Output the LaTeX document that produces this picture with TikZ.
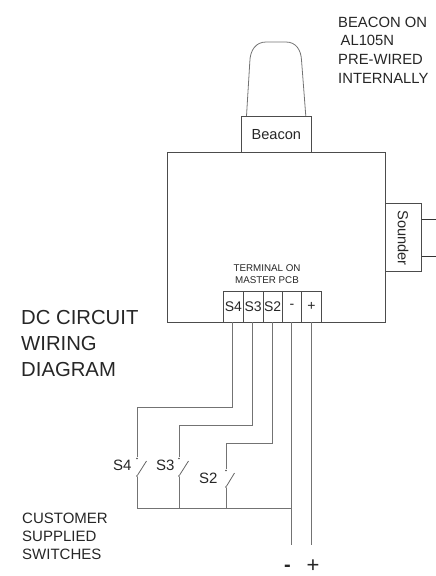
\documentclass[tikz,border=0pt]{standalone}
\usepackage{fontspec}
\setmainfont{Liberation Sans}
\tikzset{
  wire/.style={draw=black!55,line width=0.8pt},
  dark/.style={draw=black!80,line width=0.7pt},
  boxx/.style={draw=black!70,line width=0.7pt,inner sep=0pt,anchor=north west,text=black!85},
  lab/.style={inner sep=0pt,text=black!85,align=left,anchor=west},
  dot/.style={circle,fill=black!70,inner sep=0pt,minimum size=1.8pt},
  swblade/.style={draw=black!60,line width=0.8pt}
}
\begin{document}
\begin{tikzpicture}[x=1pt,y=-1pt]
\useasboundingbox (0,0) rectangle (436,576);
% dome
\draw[draw=black!55,line width=0.8pt] (246.5,116) -- (249.8,62) .. controls (250,50) and (256,42) .. (266,42) -- (286,42) .. controls (296,42) and (301,50) .. (301.5,60) -- (305.8,116);
% main
\node[boxx,minimum width=218pt,minimum height=170pt] (main) at (167,152) {};
\node[boxx,minimum width=70pt,minimum height=36pt] (beacon) at (241,116) {\fontsize{14.6}{16}\selectfont Beacon};
\node[boxx,minimum width=36pt,minimum height=68pt] (sounder) at (385,203) {};
\node[rotate=-90,inner sep=0pt,text=black!85,font=\fontsize{14.6}{16}\selectfont] (soundertxt) at (403,238) {Sounder};
\coordinate (la) at (436,219); \coordinate (lb) at (436,256);
\draw[dark] (sounder.east |- la) -- (la);
\draw[dark] (sounder.east |- lb) -- (lb);
% terminals
\node[boxx,minimum width=20pt,minimum height=31pt] (ts4) at (223,291) {\fontsize{14}{16}\selectfont S4};
\node[boxx,minimum width=19.5pt,minimum height=31pt] (ts3) at (243,291) {\fontsize{14}{16}\selectfont S3};
\node[boxx,minimum width=19.5pt,minimum height=31pt] (ts2) at (262.5,291) {\fontsize{14}{16}\selectfont S2};
\node[boxx,minimum width=19pt,minimum height=31pt] (tm) at (282,291) {\fontsize{14}{16}\selectfont -};
\node[boxx,minimum width=20pt,minimum height=31pt] (tp) at (301,291) {\fontsize{14}{16}\selectfont +};
% texts
\node[lab,font=\fontsize{14.8}{18.7}\selectfont] (t1) at (338,50) {BEACON ON\\\,AL105N\\PRE-WIRED\\INTERNALLY};
\node[lab,font=\fontsize{9.8}{12.5}\selectfont,align=center,anchor=center] (t2) at (267,274) {TERMINAL ON\\MASTER PCB};
\node[lab,font=\fontsize{20.3}{26}\selectfont] (t3) at (21,343.5) {DC CIRCUIT\\WIRING\\DIAGRAM};
\node[lab,font=\fontsize{15}{18}\selectfont] (t4) at (22,536) {CUSTOMER\\SUPPLIED\\SWITCHES};
\node[lab,font=\fontsize{15}{16}\selectfont] (ls4) at (113,465) {S4};
\node[lab,font=\fontsize{15}{16}\selectfont] (ls3) at (156,465) {S3};
\node[lab,font=\fontsize{15}{16}\selectfont] (ls2) at (199,478) {S2};
\node[lab,font=\bfseries\fontsize{20}{20}\selectfont] (minus) at (284,568) {-};
\node[lab,font=\fontsize{22}{22}\selectfont] (plus) at (306.5,566.5) {+};
% switch contacts
\node[dot] (s4a) at (137,458.5) {}; \node[dot] (s4b) at (137,476) {};
\node[dot] (s3a) at (179,458.5) {}; \node[dot] (s3b) at (179,476) {};
\node[dot] (s2a) at (226,470.5) {}; \node[dot] (s2b) at (226,487) {};
\coordinate (s4t) at (146.5,461); \coordinate (s3t) at (188.5,461); \coordinate (s2t) at (234.5,473);
\draw[swblade] (s4b) -- (s4t);
\draw[swblade] (s3b) -- (s3t);
\draw[swblade] (s2b) -- (s2t);
% wires
\coordinate (j4) at (137,407); \coordinate (j3) at (179,425); \coordinate (j2) at (226,443);
\coordinate (com) at (137,508);
\coordinate (mend) at (291.7,545); \coordinate (pend) at (311.5,545);
\draw[wire] (232.7,322) |- (j4);
\draw[wire] (j4) -- (s4a);
\draw[wire] (252.5,322) |- (j3);
\draw[wire] (j3) -- (s3a);
\draw[wire] (272,322) |- (j2);
\draw[wire] (j2) -- (s2a);
\draw[wire] (291.7,322) -- (mend);
\draw[wire] (311.5,322) -- (pend);
\draw[wire] (s4b) -- (com);
\draw[wire] (s3b) -- (s3b |- com);
\draw[wire] (s2b) -- (s2b |- com);
\draw[wire] (com) -- (291.7,508);
\end{tikzpicture}
\end{document}
